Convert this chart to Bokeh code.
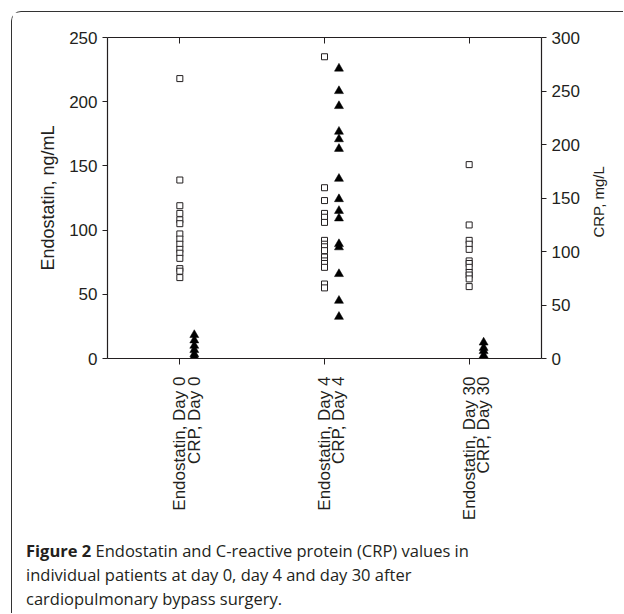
import math
from bokeh.plotting import figure
from bokeh.models import Range1d, LinearAxis, FixedTicker, ColumnDataSource, Div, Spacer
from bokeh.layouts import column, row
from bokeh.embed import file_html
from bokeh.resources import INLINE

# ---- data ----
days = ["Day 0", "Day 4", "Day 30"]
day_pos = [1, 2, 3]
endo_day0 = [218, 139, 119, 113, 108, 105, 97, 93, 89, 85, 82, 78, 70, 68, 63]
crp_day0 = [22, 17, 12, 8, 4, 2]
endo_day4 = [235, 133, 123, 113, 110, 106, 92, 89, 87, 84, 79, 76, 74, 71, 58, 55]
crp_day4 = [271, 250, 236, 212, 205, 196, 168, 149, 138, 131, 107, 104, 79, 54, 39]
endo_day30 = [151, 104, 92, 89, 85, 76, 74, 71, 67, 65, 62, 56]
crp_day30 = [15, 10, 7, 3, 1]
endo_ticks = [0, 50, 100, 150, 200, 250]
crp_ticks = [0, 50, 100, 150, 200, 250, 300]
crp_offset = 0.1
crp_title = "CRP, mg/L"
caption_bold = "Figure 2"
caption_lines = ["Endostatin and C-reactive protein (CRP) values in",
                 "individual patients at day 0, day 4 and day 30 after",
                 "cardiopulmonary bypass surgery."]

INK = "#231f20"
FONT = "Liberation Sans"
CAP_FONT = "Open Sans"

endo_x, endo_y, crp_x, crp_y = [], [], [], []
for pos, e, c in zip(day_pos, [endo_day0, endo_day4, endo_day30], [crp_day0, crp_day4, crp_day30]):
    endo_x += [pos] * len(e)
    endo_y += e
    crp_x += [pos + crp_offset] * len(c)
    crp_y += c

PW, PH = 611, 517
p = figure(frame_width=434, frame_height=321, output_backend="svg", toolbar_location=None,
           x_range=Range1d(0.5, 3.5), y_range=Range1d(0, 250),
           min_border_left=95, min_border_top=25, min_border_right=PW - 95 - 434,
           min_border_bottom=PH - 25 - 321,
           x_axis_type=None, y_axis_type=None)
p.extra_y_ranges = {"crp": Range1d(0, 300)}
p.outline_line_color = None
p.xgrid.visible = False
p.ygrid.visible = False
p.background_fill_color = "white"
p.border_fill_color = "white"

ly = LinearAxis(ticker=FixedTicker(ticks=endo_ticks), axis_label="Endostatin, ng/mL")
ry = LinearAxis(y_range_name="crp", ticker=FixedTicker(ticks=crp_ticks))
bt = []
labels = {}
for pos, d in zip(day_pos, days):
    bt += [pos, pos + crp_offset]
    labels[pos] = "Endostatin, " + d
    labels[pos + crp_offset] = "CRP, " + d
bx = LinearAxis(ticker=FixedTicker(ticks=bt, minor_ticks=day_pos), major_label_overrides=labels)
tx = LinearAxis(ticker=FixedTicker(ticks=day_pos, minor_ticks=[]),
                major_label_overrides={k: "" for k in day_pos})

# title of the CRP scale, written bottom-to-top and centred on the frame:
# it starts half its length below the middle of the CRP range
crp_mid = (crp_ticks[0] + crp_ticks[-1]) / 2
crp_title_start = crp_mid - 37
rt = LinearAxis(y_range_name="crp", ticker=FixedTicker(ticks=[crp_title_start], minor_ticks=[]),
                major_label_overrides={crp_title_start: crp_title})

for ax in (ly, ry, bx, tx, rt):
    ax.axis_line_color = INK
    ax.axis_line_width = 1.2
    ax.major_tick_line_color = INK
    ax.minor_tick_line_color = None
    ax.major_label_text_font = FONT
    ax.major_label_text_color = INK
    ax.axis_label_text_font = FONT
    ax.axis_label_text_color = INK
    ax.axis_label_text_font_style = "normal"

ly.major_tick_in = 0
ly.major_tick_out = 5
ly.major_label_text_font_size = "17px"
ly.axis_label_text_font_size = "18px"
ly.axis_label_standoff = 8

ry.major_tick_in = 0
ry.major_tick_out = 5
ry.major_label_text_font_size = "17px"

rt.axis_line_color = None
rt.major_tick_line_color = None
rt.major_tick_in = 0
rt.major_tick_out = 0
rt.major_label_orientation = math.pi / 2
rt.major_label_text_font_size = "15px"
rt.major_label_standoff = 16

bx.major_tick_line_color = None
bx.minor_tick_line_color = INK
bx.minor_tick_in = 0
bx.minor_tick_out = 6
bx.major_label_orientation = math.pi / 2
bx.major_label_text_font_size = "17px"
bx.major_label_standoff = 12

tx.major_tick_in = 6
tx.major_tick_out = 0
tx.major_label_text_font_size = "0px"

p.add_layout(ly, "left")
p.add_layout(ry, "right")
p.add_layout(rt, "right")
p.add_layout(bx, "below")
p.add_layout(tx, "above")

src_e = ColumnDataSource(dict(x=endo_x, y=endo_y))
src_c = ColumnDataSource(dict(x=crp_x, y=crp_y))
p.scatter("x", "y", source=src_e, marker="square", size=6, fill_color="white",
          line_color=INK, line_width=1)
p.scatter("x", "y", source=src_c, marker="triangle", size=9, fill_color="black",
          line_color="black", line_width=0.5, y_range_name="crp")

caption_html = (
    "<div style=\"font-family:'Open Sans';font-size:16.5px;line-height:24px;color:#231f20;"
    "padding:10px 0 0 14px;white-space:nowrap;\">"
    "<b>" + caption_bold + "</b> " + "<br>".join(caption_lines) + "</div>")
caption = Div(text=caption_html, width=PW, height=84, margin=0)

inner = column(p, caption, spacing=0,
               styles={"border-left": "1.5px solid #333333", "border-top": "1.5px solid #333333",
                       "border-top-left-radius": "10px", "background": "white"})
layout = column(Spacer(width=10, height=11),
                row(Spacer(width=11, height=10), inner, spacing=0), spacing=0)

open("out.html", "w").write(file_html(layout, INLINE))
